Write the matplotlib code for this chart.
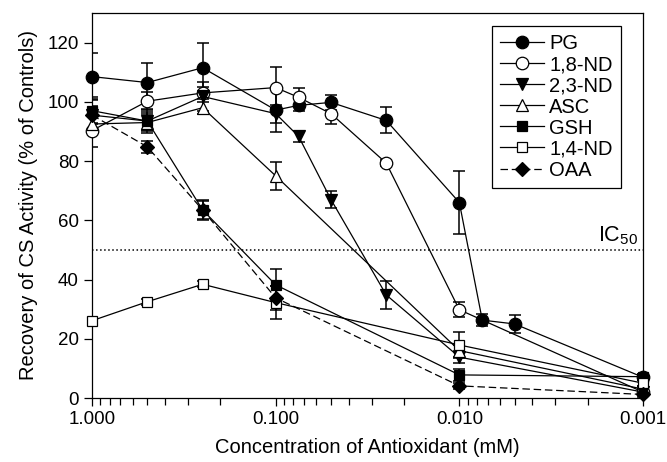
import numpy as np
import matplotlib
matplotlib.use("Agg")
import matplotlib.pyplot as plt
from matplotlib.ticker import LogLocator, FixedLocator, FormatStrFormatter, NullFormatter

plt.rcParams['font.family'] = ['Liberation Sans', 'DejaVu Sans']
plt.rcParams['mathtext.fontset'] = 'custom'
plt.rcParams['mathtext.rm'] = 'Liberation Sans'

# concentrations (mM)
x_pg = [1.0, 0.5, 0.25, 0.1, 0.075, 0.05, 0.025, 0.01, 0.0075, 0.005, 0.001]
x_18 = [1.0, 0.5, 0.25, 0.1, 0.075, 0.05, 0.025, 0.01, 0.001]
x_23 = [1.0, 0.5, 0.25, 0.1, 0.075, 0.05, 0.025, 0.01, 0.001]
x_six = [1.0, 0.5, 0.25, 0.1, 0.01, 0.001]

# recovery (% of controls) and error bars
pg = [108.5, 106.5, 111.5, 97.2, 98.8, 99.8, 93.7, 66.0, 26.3, 25.0, 7.0]
pg_err = [8, 6.5, 8.5, 7.5, 2, 2.5, 4.4, 10.7, 2, 3, 1]
nd18 = [90.3, 100.2, 103.0, 104.8, 101.5, 96.0, 79.3, 29.8, 2.0]
nd18_err = [5.5, 3, 2, 7, 3, 3.5, 1, 2.5, 1]
nd23 = [95.5, 93.5, 101.8, 96.0, 88.3, 67.0, 34.8, 13.8, 2.0]
nd23_err = [6, 3, 5, 3, 2, 3, 4.8, 2, 1]
asc = [92.5, 93.0, 98.0, 75.0, 16.0, 3.0]
asc_err = [3, 3, 2, 4.7, 2, 1]
gsh = [97.0, 93.5, 63.5, 38.2, 7.8, 7.2]
gsh_err = [4, 4, 3.5, 5.5, 2, 1]
nd14 = [26.1, 32.5, 38.4, 32.2, 17.9, 5.0]
nd14_err = [1, 1, 1, 5.5, 4.5, 1]
oaa = [95.5, 84.8, 63.5, 33.8, 4.1, 1.2]
oaa_err = [3, 2, 3, 4, 1, 1]

fig = plt.figure(figsize=(6.67, 4.62), dpi=100)
ax = fig.add_axes([0.138, 0.1385, 0.826, 0.8335])

series = [
    (x_pg, pg, pg_err, 'o', 'k', '-', 'PG', 9),
    (x_18, nd18, nd18_err, 'o', 'white', '-', '1,8-ND', 9),
    (x_23, nd23, nd23_err, 'v', 'k', '-', '2,3-ND', 9),
    (x_six, asc, asc_err, '^', 'white', '-', 'ASC', 9),
    (x_six, gsh, gsh_err, 's', 'k', '-', 'GSH', 7.5),
    (x_six, nd14, nd14_err, 's', 'white', '-', '1,4-ND', 7.5),
    (x_six, oaa, oaa_err, 'D', 'k', (0, (6, 3)), 'OAA', 7.5),
]

for xs, ys, es, m, fc, ls, lab, ms in series:
    ax.errorbar(xs, ys, yerr=es, fmt='none', ecolor='k', elinewidth=1.1,
                capsize=4.5, capthick=1.1, zorder=2)
    ax.plot(xs, ys, color='k', linestyle=ls, linewidth=0.9, marker=m,
            markersize=ms, markerfacecolor=fc, markeredgecolor='k',
            markeredgewidth=0.9, label=lab, zorder=3, clip_on=False)

ax.axhline(50, color='k', linestyle=':', linewidth=1.1, zorder=1)
ax.text(0.00107, 51.0, r'IC$_{50}$', ha='right', va='bottom', fontsize=15.5)

ax.set_xscale('log')
ax.set_xlim(1.0, 0.001)
ax.set_ylim(0, 130)
ax.xaxis.set_major_locator(FixedLocator([1.0, 0.1, 0.01, 0.001]))
ax.xaxis.set_major_formatter(FormatStrFormatter('%.3f'))
ax.xaxis.set_minor_locator(LogLocator(base=10, subs=np.arange(2, 10)))
ax.xaxis.set_minor_formatter(NullFormatter())
ax.set_yticks([0, 20, 40, 60, 80, 100, 120])

ax.tick_params(axis='both', which='major', direction='out', length=6,
               width=0.9, labelsize=13.5, top=False, right=False)
ax.tick_params(axis='x', which='minor', direction='out', length=5, width=0.9)
for s in ax.spines.values():
    s.set_linewidth(0.9)

ax.set_xlabel('Concentration of Antioxidant (mM)', fontsize=14.5, labelpad=7)
ax.set_ylabel('Recovery of CS Activity (% of Controls)', fontsize=14.5, labelpad=7)

leg = ax.legend(loc='upper right', bbox_to_anchor=(0.96, 0.965), fontsize=14.5,
                frameon=True, fancybox=False, edgecolor='k', framealpha=1,
                handlelength=2.2, handletextpad=0.25, labelspacing=0.1,
                borderpad=0.4, borderaxespad=0)
leg.get_frame().set_linewidth(0.9)

fig.savefig('out.png', dpi=100)
